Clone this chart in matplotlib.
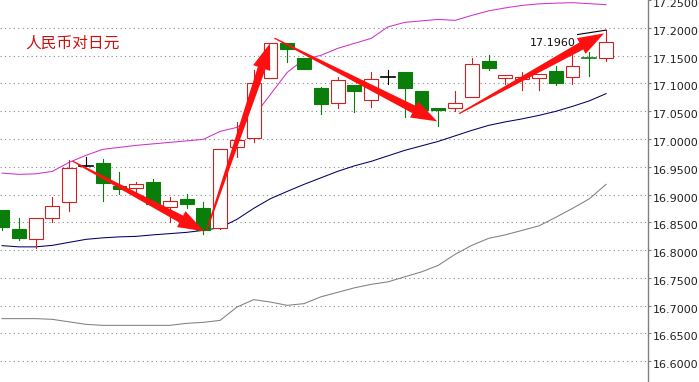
import numpy as np
import matplotlib
matplotlib.use("Agg")
import matplotlib.pyplot as plt
from matplotlib.patches import Rectangle, Polygon
from matplotlib.transforms import IdentityTransform, ScaledTranslation

# daily OHLC, CNY/JPY
opens = [16.8715, 16.8373, 16.8193, 16.8571, 16.8859, 16.9507, 16.9561, 16.9147, 16.9111, 16.9219,
         16.8769, 16.8913, 16.8751, 16.8391, 16.9849, 17.0011, 17.1091, 17.1721, 17.1451, 17.0911,
         17.0641, 17.0965, 17.0695, 17.1109, 17.1199, 17.0857, 17.0551, 17.0551, 17.0749, 17.1397,
         17.1091, 17.1073, 17.1091, 17.1217, 17.1109, 17.1451, 17.1451]
highs = [16.8730, 16.8571, 16.8571, 16.8949, 16.9615, 16.9669, 16.9633, 16.9399, 16.9219, 16.9273,
         16.8949, 16.9003, 16.8859, 16.9813, 17.0299, 17.1235, 17.1721, 17.1721, 17.1451, 17.0929,
         17.1109, 17.0965, 17.1199, 17.1235, 17.1199, 17.0857, 17.0551, 17.0857, 17.1451, 17.1505,
         17.1145, 17.1199, 17.1163, 17.1307, 17.1505, 17.1559, 17.1960]
lows = [16.8355, 16.8175, 16.8031, 16.8499, 16.8697, 16.9507, 16.8877, 16.9003, 16.9021, 16.8823,
        16.8499, 16.8751, 16.8283, 16.8373, 16.9669, 16.9939, 17.1091, 17.1379, 17.1253, 17.0443,
        17.0551, 17.0479, 17.0569, 17.0983, 17.0389, 17.0480, 17.0227, 17.0497, 17.0749, 17.1235,
        17.0983, 17.0875, 17.0875, 17.0965, 17.0983, 17.1127, 17.1397]
closes = [16.8409, 16.8211, 16.8571, 16.8787, 16.9471, 16.9507, 16.9201, 16.9093, 16.9183, 16.8823,
          16.8877, 16.8823, 16.8355, 16.9813, 16.9975, 17.1001, 17.1721, 17.1613, 17.1253, 17.0623,
          17.1055, 17.0857, 17.1073, 17.1109, 17.0911, 17.0515, 17.0515, 17.0641, 17.1343, 17.1271,
          17.1145, 17.1109, 17.1163, 17.1001, 17.1307, 17.1448, 17.1739]

# bollinger bands
boll_upper = [16.9386, 16.9363, 16.9372, 16.9417, 16.9579, 16.9705, 16.9813, 16.9849, 16.9885, 16.9912,
              16.9939, 16.9966, 16.9993, 17.0137, 17.0209, 17.0407, 17.0803, 17.1199, 17.1433, 17.1505,
              17.1631, 17.1721, 17.1811, 17.2018, 17.2099, 17.2126, 17.2153, 17.2135, 17.2225, 17.2306,
              17.2360, 17.2405, 17.2432, 17.2445, 17.2454, 17.2436, 17.2418]
boll_mid = [16.8080, 16.8058, 16.8058, 16.8085, 16.8139, 16.8193, 16.8220, 16.8238, 16.8247, 16.8274,
            16.8296, 16.8319, 16.8355, 16.8404, 16.8553, 16.8751, 16.8926, 16.9057, 16.9183, 16.9300,
            16.9417, 16.9516, 16.9597, 16.9696, 16.9795, 16.9876, 16.9957, 17.0056, 17.0155, 17.0245,
            17.0308, 17.0362, 17.0425, 17.0497, 17.0587, 17.0686, 17.0816]
boll_lower = [16.6766, 16.6766, 16.6766, 16.6753, 16.6708, 16.6663, 16.6645, 16.6645, 16.6645, 16.6645,
              16.6645, 16.6681, 16.6699, 16.6735, 16.6974, 16.7108, 16.7064, 16.7005, 16.7036, 16.7158,
              16.7239, 16.7320, 16.7383, 16.7428, 16.7518, 16.7608, 16.7725, 16.7923, 16.8085, 16.8211,
              16.8274, 16.8355, 16.8436, 16.8589, 16.8751, 16.8922, 16.9183]

# trend arrows: (index, price) from -> to
arrow_from = [(4.2, 16.9602), (12.2, 16.8355), (16.23, 17.1816), (27.24, 17.0456)]
arrow_to = [(12.05, 16.8337), (15.97, 17.1721), (25.94, 17.0317), (35.88, 17.1901)]

high_label = "17.1960"
title = "人民币对日元"
yticks = np.round(np.arange(16.60, 17.2501, 0.05), 2)

RED = "#d02020"
GREEN = "#0a7d0a"

fig = plt.figure(figsize=(6.99, 3.82), dpi=100)
ax = fig.add_axes([0, 0, 648 / 699, 1])

x = np.arange(len(opens))
ax.plot(x, boll_upper, color="#cc33cc", lw=0.75, zorder=2)
ax.plot(x, boll_mid, color="#000066", lw=0.75, zorder=2)
ax.plot(x, boll_lower, color="#808080", lw=0.75, zorder=2)

w = 0.83
for i in range(len(opens)):
    o, h, l, c = opens[i], highs[i], lows[i], closes[i]
    top, bot = max(o, c), min(o, c)
    if c > o:
        ax.plot([i, i], [top, h], color=RED, lw=0.8, zorder=3)
        ax.plot([i, i], [l, bot], color=RED, lw=0.8, zorder=3)
        ax.add_patch(Rectangle((i - w / 2, bot), w, top - bot, fc="white", ec=RED, lw=0.8, zorder=3))
    else:
        col = "black" if c == o else GREEN
        ax.plot([i, i], [l, h], color=col, lw=0.8, zorder=3)
        if top - bot < 0.001:
            ax.plot([i - w / 2, i + w / 2], [top, top], color=col, lw=1.2, zorder=3)
        else:
            ax.add_patch(Rectangle((i - w / 2, bot), w, top - bot, fc=col, ec=col, lw=0.8, zorder=3))

ax.set_xlim(-0.12, 38.5)
ax.set_ylim(16.5625, 17.2502)


def tapered_arrow(p0, p1, w0=1.2, w1=8, hw=18, hl=26, color="#ff1010"):
    a, b = ax.transData.transform([p0, p1])
    d = b - a
    u = d / np.hypot(*d)
    n = np.array([-u[1], u[0]])
    base = b - u * hl
    pts = [a + n * w0 / 2, base + n * w1 / 2, base + n * hw / 2, b,
           base - n * hw / 2, base - n * w1 / 2, a - n * w0 / 2]
    ax.add_patch(Polygon(pts, closed=True, fc=color, ec="none", transform=IdentityTransform(), zorder=5))


for p0, p1 in zip(arrow_from, arrow_to):
    tapered_arrow(p0, p1)

# high marker
ax.plot([34.3, 36], [17.188, highs[-1]], color="black", lw=0.8, zorder=4)
ax.text(34.2, 17.1726, high_label, ha="right", va="center", fontsize=8, color="#111111",
        family="DejaVu Sans", zorder=6)

ax.text(0.0386, 0.888, title, transform=ax.transAxes, fontsize=11.3, color="#cc1111",
        family=["Noto Sans CJK SC", "DejaVu Sans"], va="center", ha="left")

ax.set_yticks(yticks)
ax.yaxis.tick_right()
ax.yaxis.set_major_formatter(matplotlib.ticker.FormatStrFormatter("%.4f"))
ax.tick_params(axis="y", length=2.5, pad=1, labelsize=8, colors="#222222", width=0.8)
ax.tick_params(axis="y", color="#808080")
ax.set_xticks([])
ax.yaxis.grid(True, linestyle=(0, (1, 3)), color="#888888", lw=0.8)
ax.get_ygridlines()[-1].set_visible(False)
ax.set_axisbelow(True)
for s in ["top", "left", "bottom"]:
    ax.spines[s].set_visible(False)
ax.spines["right"].set_color("#808080")
ax.spines["right"].set_linewidth(1)

off = ScaledTranslation(0, -3 / 100, fig.dpi_scale_trans)
for lab in ax.get_yticklabels():
    lab.set_transform(lab.get_transform() + off)

fig.savefig("out.png", dpi=100)
